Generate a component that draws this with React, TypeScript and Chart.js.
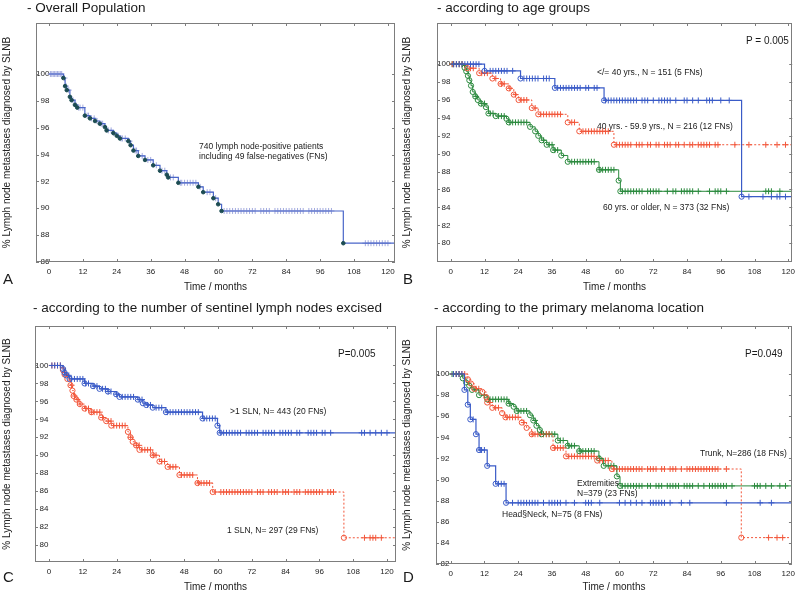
import React, { useEffect, useRef } from "react";
import { Chart, registerables } from "chart.js";
Chart.register(...registerables);

// ---------- tick labels ----------
const xTickValues = [0, 12, 24, 36, 48, 60, 72, 84, 96, 108, 120];
const yTicksA = [86, 88, 90, 92, 94, 96, 98, 100];
const yTicksB = [80, 82, 84, 86, 88, 90, 92, 94, 96, 98, 100];
const yTicksC = [80, 82, 84, 86, 88, 90, 92, 94, 96, 98, 100];
const yTicksD = [82, 84, 86, 88, 90, 92, 94, 96, 98, 100];

// ---------- A: overall population ----------
const overallTimes = [5.1, 5.7, 6.3, 7.4, 8.0, 9.2, 10.0, 12.7, 14.5, 16.3, 18.0, 19.8, 20.4, 22.8, 24.0, 25.1, 28.1, 28.9, 29.9, 31.6, 34.0, 36.9, 39.3, 41.7, 42.2, 45.8, 52.9, 54.6, 58.2, 59.9, 61.1, 104.2];
const overallValues = [99.7, 99.1, 98.8, 98.3, 98.05, 97.7, 97.5, 96.9, 96.7, 96.5, 96.3, 96.05, 95.8, 95.6, 95.4, 95.2, 95.0, 94.7, 94.3, 93.9, 93.6, 93.2, 92.8, 92.5, 92.3, 91.9, 91.6, 91.2, 90.75, 90.3, 89.8, 87.4];
const overallCensor = [0.5, 1, 1.5, 2, 2.5, 3, 3.5, 4, 4.5, 5.5, 6, 7, 8.5, 9.5, 10.5, 11, 12, 13.5, 14, 15, 16, 17, 18.5, 19, 21, 22, 23, 24.5, 25.5, 26, 27, 28.5, 30.5, 31, 33, 35, 36, 38, 40, 41, 43, 44, 46.5, 47, 48, 49, 50, 51, 52, 53.5, 56, 57, 59, 62, 63, 64, 65, 66, 67, 68, 69, 70, 71, 72, 73, 75, 76, 77, 78, 80, 81, 82, 83, 84, 85, 86, 87, 88, 89, 90, 92, 93, 94, 95, 96, 97, 98, 99, 100, 112, 113, 114, 115, 116, 117, 118, 119, 120];

// ---------- B: age groups ----------
const ageYoungTimes = [12.0, 24.8, 37.0, 54.5, 103.4];
const ageYoungValues = [99.25, 98.4, 97.35, 95.95, 85.2];
const ageYoungCensor = [1, 2, 3, 4, 5, 6, 7, 8, 9, 10, 14, 15, 16, 17, 18, 19, 20, 22, 26, 27, 28, 29, 30, 31, 33, 34, 35, 38, 39, 40, 41, 42, 43, 44, 45, 46, 48, 49, 51, 52, 55, 56, 57, 58, 59, 60, 61, 62, 63, 64, 65, 66, 68, 69, 70, 72, 74, 75, 76, 77, 78, 80, 83, 84, 86, 88, 91, 92, 93, 96, 99, 106, 111, 114, 116, 117, 119];
const ageMidTimes = [5.9, 10.1, 14.8, 17.7, 20.6, 22.4, 24.1, 28.8, 31.1, 41.6, 45.7, 58.0];
const ageMidValues = [99.55, 99.0, 98.4, 97.8, 97.3, 96.6, 96.0, 95.1, 94.4, 93.5, 92.5, 91.0];
const ageMidCensor = [0.5, 1, 2, 3, 4, 7, 8, 11, 12, 13, 16, 18, 19, 21, 23, 25, 26, 27, 30, 32, 33, 34, 35, 36, 37, 38, 39, 43, 44, 47, 48, 49, 50, 51, 52, 53, 54, 55, 56, 59, 60, 61, 62, 63, 64, 66, 67, 68, 70, 71, 73, 74, 76, 77, 78, 80, 81, 83, 85, 86, 88, 89, 90, 91, 92, 94, 95, 101, 106, 112, 116, 119];
const ageOldTimes = [4.9, 5.5, 6.1, 6.6, 7.2, 7.8, 8.7, 9.6, 10.7, 12.5, 13.4, 16.0, 19.8, 20.6, 28.2, 30.0, 31.1, 32.3, 34.1, 36.4, 39.3, 41.6, 52.7, 59.7, 60.3];
const ageOldValues = [99.6, 99.2, 98.7, 98.2, 97.6, 96.9, 96.4, 96.0, 95.6, 95.2, 94.5, 94.2, 93.9, 93.5, 93.0, 92.5, 92.0, 91.5, 91.0, 90.4, 89.8, 89.1, 88.2, 87.0, 85.8];
const ageOldCensor = [0.5, 1, 2, 3, 4, 9, 11, 12, 14, 15, 17, 18, 19, 21, 22, 23, 24, 25, 26, 27, 33, 35, 36, 37, 38, 43, 44, 45, 46, 47, 48, 49, 50, 51, 53, 54, 55, 56, 57, 58, 61, 62, 63, 64, 65, 66, 67, 68, 70, 71, 72, 73, 74, 77, 79, 80, 82, 83, 84, 85, 86, 88, 92, 94, 95, 96, 98, 112, 113, 114, 117];

// ---------- C: number of SLN excised ----------
const slnMultiTimes = [5.0, 5.5, 6.1, 7.3, 12.6, 15.6, 17.9, 20.9, 23.8, 25.0, 31.5, 33.3, 34.5, 36.8, 41.5, 54.5, 59.8, 60.6];
const slnMultiValues = [99.6, 99.2, 98.9, 98.5, 98.0, 97.7, 97.4, 97.1, 96.8, 96.5, 96.2, 95.8, 95.6, 95.3, 94.8, 94.1, 93.3, 92.5];
const slnMultiCensor = [1, 2, 3, 4, 5.5, 7, 8, 9, 10, 11, 12, 13, 14, 16, 17, 19, 20, 21, 22, 24, 26, 27, 28, 29, 30, 32, 33, 35, 36, 38, 39, 40, 42, 43, 44, 45, 46, 47, 48, 49, 50, 51, 52, 53, 55, 56, 57, 58, 59, 61, 62, 63, 64, 65, 66, 67, 68, 70, 71, 72, 73, 74, 76, 77, 78, 79, 80, 82, 83, 84, 85, 86, 88, 89, 92, 93, 94, 95, 97, 98, 100, 111, 112, 114, 116, 118, 120];
const slnSingleTimes = [4.9, 5.5, 6.5, 7.6, 8.3, 8.7, 9.7, 10.9, 12.6, 15.0, 18.5, 20.3, 22.1, 28.0, 28.9, 29.7, 30.9, 32.1, 36.8, 39.2, 42.1, 46.3, 52.7, 58.1, 104.7];
const slnSingleValues = [99.5, 99.0, 98.5, 97.8, 97.2, 96.6, 96.2, 95.7, 95.2, 94.8, 94.2, 93.8, 93.3, 92.6, 92.0, 91.5, 91.1, 90.6, 90.0, 89.3, 88.7, 87.8, 86.9, 85.9, 80.8];
const slnSingleCensor = [1, 2, 3, 4, 6, 8, 9, 10, 11, 13, 14, 15, 16, 17, 18, 19, 21, 22, 23, 24, 25, 26, 27, 29, 31, 32, 33, 34, 35, 36, 37, 38, 40, 41, 43, 44, 45, 47, 48, 49, 50, 51, 53, 54, 55, 56, 57, 59, 61, 62, 63, 64, 65, 66, 67, 68, 69, 70, 71, 72, 74, 75, 76, 78, 79, 80, 81, 83, 84, 85, 87, 88, 89, 91, 92, 93, 94, 95, 96, 97, 99, 100, 101, 112, 114, 115, 116, 118];

// ---------- D: primary melanoma location ----------
const headNeckTimes = [4.9, 6.1, 7.0, 9.0, 10.1, 13.0, 16.0, 19.7];
const headNeckValues = [98.5, 97.1, 95.7, 94.3, 92.8, 91.3, 89.6, 87.8];
const headNeckCensor = [1, 2, 3, 4, 8, 10.5, 11, 12, 17, 18, 19, 22, 24, 25, 26, 27, 28, 29, 30, 31, 33, 35, 36, 37, 38, 39, 41, 44, 48, 49, 50, 53, 60, 62, 64, 66, 68, 71, 72, 73, 74, 75, 76, 78, 82, 85, 98, 110, 114];
const trunkTimes = [6.1, 7.2, 8.4, 11.3, 12.7, 13.0, 14.8, 18.3, 19.5, 25.3, 27.0, 28.8, 36.4, 41.0, 52.1, 57.3, 103.3];
const trunkValues = [99.5, 99.1, 98.6, 98.3, 97.8, 97.3, 96.8, 96.3, 95.9, 95.4, 94.9, 94.3, 93.0, 92.2, 91.8, 91.0, 84.5];
const trunkCensor = [1, 2, 3, 4, 5, 9, 10, 14, 16, 17, 20, 21, 22, 23, 24, 26, 29, 30, 31, 32, 33, 34, 35, 37, 38, 39, 40, 42, 43, 44, 45, 46, 47, 48, 49, 50, 51, 53, 54, 55, 56, 58, 59, 60, 61, 62, 63, 64, 65, 66, 67, 68, 70, 71, 72, 73, 75, 76, 78, 79, 80, 82, 84, 85, 86, 87, 88, 89, 90, 91, 92, 93, 94, 95, 98, 113, 116, 118];
const extremTimes = [4.3, 5.5, 6.6, 7.6, 10.1, 13.0, 20.6, 22.4, 23.5, 28.2, 29.4, 30.5, 31.7, 32.3, 38.1, 41.6, 45.7, 52.7, 54.4, 59.1, 60.2];
const extremValues = [99.6, 99.2, 98.9, 98.5, 98.0, 97.6, 97.2, 96.9, 96.5, 96.1, 95.6, 95.1, 94.7, 94.3, 93.7, 93.2, 92.7, 92.0, 91.3, 90.3, 89.4];
const extremCensor = [0.5, 1, 2, 3, 9, 12, 14, 15, 16, 17, 18, 19, 20, 21, 24, 25, 26, 27, 30, 33, 34, 35, 36, 37, 39, 40, 42, 43, 44, 46, 47, 48, 49, 50, 51, 53, 56, 57, 58, 61, 62, 63, 64, 65, 66, 67, 68, 70, 71, 73, 74, 75, 77, 78, 79, 80, 81, 83, 84, 85, 86, 88, 90, 92, 93, 94, 95, 96, 97, 98, 100, 108, 109, 110, 112, 114, 117, 119];

const FONT = "'Liberation Sans', Arial, Helvetica, sans-serif";
const BLUE = "#3a5bc7";
const RED = "#f2563a";
const GREEN = "#2b8a3e";

function levelAt(times: number[], values: number[], t: number) {
  let v = 100;
  for (let i = 0; i < times.length; i++) if (times[i] <= t) v = values[i];
  return v;
}

type Style = {
  color: string; width: number; dash: number[];
  eventColor: string; eventFill: string; eventRadius: number;
  crossColor: string; crossRadius: number;
};

function curveDatasets(times: number[], values: number[], censor: number[], xEnd: number, st: Style) {
  const last = values.length ? values[values.length - 1] : 100;
  const pts = [{ x: 0, y: 100 }, ...times.map((t, i) => ({ x: t, y: values[i] })), { x: xEnd, y: last }];
  const radii = pts.map((_, i) => (i === 0 || i === pts.length - 1 ? 0 : st.eventRadius));
  return [
    {
      data: pts, showLine: true, stepped: true, borderColor: st.color, borderWidth: st.width,
      borderDash: st.dash, pointRadius: radii, pointHoverRadius: radii, pointStyle: "circle",
      pointBorderColor: st.eventColor, pointBackgroundColor: st.eventFill, pointBorderWidth: 1,
      fill: false, order: 1,
    },
    {
      data: censor.map((t) => ({ x: t, y: levelAt(times, values, t) })), showLine: false,
      pointStyle: "cross", pointRadius: st.crossRadius, pointHoverRadius: st.crossRadius,
      pointBorderColor: st.crossColor, pointBackgroundColor: st.crossColor, pointBorderWidth: 1,
      borderColor: st.crossColor, order: 2,
    },
  ];
}

const framePlugin = {
  id: "frame",
  afterDraw(chart: any) {
    const { ctx, chartArea: a, scales } = chart;
    ctx.save();
    ctx.strokeStyle = "#7d7d7d";
    ctx.lineWidth = 1;
    ctx.strokeRect(Math.round(a.left) + 0.5, Math.round(a.top) + 0.5, Math.round(a.right - a.left) - 1, Math.round(a.bottom - a.top) - 1);
    ctx.beginPath();
    (scales.x.ticks || []).forEach((t: any) => {
      const px = Math.round(scales.x.getPixelForValue(t.value)) + 0.5;
      ctx.moveTo(px, a.bottom); ctx.lineTo(px, a.bottom - 3);
      ctx.moveTo(px, a.top); ctx.lineTo(px, a.top + 3);
    });
    (scales.y.ticks || []).forEach((t: any) => {
      const py = Math.round(scales.y.getPixelForValue(t.value)) + 0.5;
      ctx.moveTo(a.left, py); ctx.lineTo(a.left + 3, py);
      ctx.moveTo(a.right, py); ctx.lineTo(a.right - 3, py);
    });
    ctx.stroke();
    ctx.restore();
  },
};

type PanelGeom = {
  left: number; top: number; w: number; h: number;
  padTop: number; padRight: number; yw: number; xh: number;
  xMin: number; xMax: number; yMin: number; yMax: number;
};

function Panel({ g, yTicks, datasets }: { g: PanelGeom; yTicks: number[]; datasets: any[] }) {
  const ref = useRef<HTMLCanvasElement>(null);
  useEffect(() => {
    if (!ref.current) return;
    const chart = new Chart(ref.current, {
      type: "scatter",
      data: { datasets },
      options: {
        animation: false,
        responsive: false,
        events: [],
        layout: { padding: { left: 0, top: g.padTop, right: g.padRight, bottom: 0 } },
        plugins: { legend: { display: false }, tooltip: { enabled: false } },
        scales: {
          x: {
            type: "linear", min: g.xMin, max: g.xMax,
            afterBuildTicks: (s: any) => { s.ticks = xTickValues.map((v) => ({ value: v })); },
            afterFit: (s: any) => { s.height = g.xh; },
            grid: { display: false, drawTicks: false },
            border: { display: false },
            ticks: { font: { size: 8, family: FONT }, color: "#222", padding: 5, maxRotation: 0, autoSkip: false },
            title: { display: true, text: "Time / months", font: { size: 10, family: FONT }, color: "#222", padding: { top: 0, bottom: 0 } },
          },
          y: {
            type: "linear", min: g.yMin, max: g.yMax,
            afterBuildTicks: (s: any) => { s.ticks = yTicks.map((v) => ({ value: v })); },
            afterFit: (s: any) => { s.width = g.yw; },
            grid: { display: false, drawTicks: false },
            border: { display: false },
            ticks: { mirror: true, crossAlign: "far", padding: 0, font: { size: 8, family: FONT }, color: "#222" },
            title: { display: true, text: "% Lymph node metastases diagnosed by SLNB", font: { size: 10, family: FONT }, color: "#222", padding: { top: 1, bottom: 0 } },
          },
        },
      } as any,
      plugins: [framePlugin],
    });
    return () => chart.destroy();
  }, []);
  return (
    <div style={{ position: "absolute", left: g.left, top: g.top, width: g.w, height: g.h }}>
      <canvas ref={ref} width={g.w} height={g.h} style={{ width: g.w, height: g.h, display: "block" }} />
    </div>
  );
}

function Txt({ x, y, size, children, weight }: { x: number; y: number; size: number; children: any; weight?: number }) {
  return (
    <div style={{ position: "absolute", left: x, top: y, transform: "translateY(-50%)", fontSize: size, lineHeight: 1, fontFamily: FONT, color: "#1a1a1a", whiteSpace: "nowrap", fontWeight: weight || 400 }}>
      {children}
    </div>
  );
}

const gA: PanelGeom = { left: 0, top: 0, w: 400, h: 293, padTop: 23, padRight: 5, yw: 36, xh: 31, xMin: -4.6, xMax: 122.5, yMin: 86, yMax: 103.8 };
const gB: PanelGeom = { left: 400, top: 0, w: 400, h: 293, padTop: 23, padRight: 2, yw: 37, xh: 31, xMin: -4.9, xMax: 121.4, yMin: 77.9, yMax: 104.6 };
const gC: PanelGeom = { left: 0, top: 293, w: 400, h: 300, padTop: 33, padRight: 3, yw: 35, xh: 31, xMin: -5.0, xMax: 123.2, yMin: 78.1, yMax: 104.4 };
const gD: PanelGeom = { left: 400, top: 293, w: 400, h: 300, padTop: 33, padRight: 2, yw: 36, xh: 29, xMin: -5.2, xMax: 121.3, yMin: 82, yMax: 104.55 };

const styleOverall: Style = { color: "#4a66c9", width: 1.2, dash: [], eventColor: "#1c4c52", eventFill: "#1c4c52", eventRadius: 1.8, crossColor: "#a2aade", crossRadius: 3 };
const sBlue: Style = { color: BLUE, width: 1.2, dash: [], eventColor: BLUE, eventFill: "rgba(255,255,255,0)", eventRadius: 2.6, crossColor: BLUE, crossRadius: 3 };
const sRed: Style = { color: RED, width: 1, dash: [2, 2], eventColor: RED, eventFill: "rgba(255,255,255,0)", eventRadius: 2.6, crossColor: RED, crossRadius: 3 };
const sGreen: Style = { color: GREEN, width: 1, dash: [], eventColor: GREEN, eventFill: "rgba(255,255,255,0)", eventRadius: 2.6, crossColor: GREEN, crossRadius: 3 };

export default function App() {
  const dsA = curveDatasets(overallTimes, overallValues, overallCensor, gA.xMax, styleOverall);
  const dsB = [
    ...curveDatasets(ageYoungTimes, ageYoungValues, ageYoungCensor, gB.xMax, sBlue),
    ...curveDatasets(ageMidTimes, ageMidValues, ageMidCensor, gB.xMax, sRed),
    ...curveDatasets(ageOldTimes, ageOldValues, ageOldCensor, gB.xMax, sGreen),
  ];
  const dsC = [
    ...curveDatasets(slnMultiTimes, slnMultiValues, slnMultiCensor, gC.xMax, sBlue),
    ...curveDatasets(slnSingleTimes, slnSingleValues, slnSingleCensor, gC.xMax, sRed),
  ];
  const dsD = [
    ...curveDatasets(headNeckTimes, headNeckValues, headNeckCensor, gD.xMax, sBlue),
    ...curveDatasets(trunkTimes, trunkValues, trunkCensor, gD.xMax, sRed),
    ...curveDatasets(extremTimes, extremValues, extremCensor, gD.xMax, sGreen),
  ];
  return (
    <div style={{ position: "absolute", left: 0, top: 0, width: 800, height: 593, overflow: "hidden", background: "#fff", fontFamily: FONT }}>
      <Panel g={gA} yTicks={yTicksA} datasets={dsA} />
      <Panel g={gB} yTicks={yTicksB} datasets={dsB} />
      <Panel g={gC} yTicks={yTicksC} datasets={dsC} />
      <Panel g={gD} yTicks={yTicksD} datasets={dsD} />

      <Txt x={27} y={8} size={13.5}>- Overall Population</Txt>
      <Txt x={437} y={8} size={13.5}>- according to age groups</Txt>
      <Txt x={33} y={308} size={13.5}>- according to the number of sentinel lymph nodes excised</Txt>
      <Txt x={434} y={308} size={13.5}>- according to the primary melanoma location</Txt>

      <Txt x={3} y={278} size={15}>A</Txt>
      <Txt x={403} y={278} size={15}>B</Txt>
      <Txt x={3} y={576} size={15}>C</Txt>
      <Txt x={403} y={576} size={15}>D</Txt>

      <Txt x={199} y={146} size={8.5}>740 lymph node-positive patients</Txt>
      <Txt x={199} y={156} size={8.5}>including 49 false-negatives (FNs)</Txt>

      <Txt x={746} y={41} size={10}>P = 0.005</Txt>
      <Txt x={597} y={72} size={8.5}>&lt;/= 40 yrs., N = 151 (5 FNs)</Txt>
      <Txt x={597} y={126} size={8.5}>40 yrs. - 59.9 yrs., N = 216 (12 FNs)</Txt>
      <Txt x={603} y={207} size={8.5}>60 yrs. or older, N = 373 (32 FNs)</Txt>

      <Txt x={338} y={354} size={10}>P=0.005</Txt>
      <Txt x={230} y={411} size={8.5}>&gt;1 SLN, N= 443 (20 FNs)</Txt>
      <Txt x={227} y={530} size={8.5}>1 SLN, N= 297 (29 FNs)</Txt>

      <Txt x={745} y={354} size={10}>P=0.049</Txt>
      <Txt x={700} y={453} size={8.5}>Trunk, N=286 (18 FNs)</Txt>
      <Txt x={577} y={483} size={8.5}>Extremities</Txt>
      <Txt x={577} y={493} size={8.5}>N=379 (23 FNs)</Txt>
      <Txt x={502} y={514} size={8.5}>Head§Neck, N=75 (8 FNs)</Txt>
    </div>
  );
}
